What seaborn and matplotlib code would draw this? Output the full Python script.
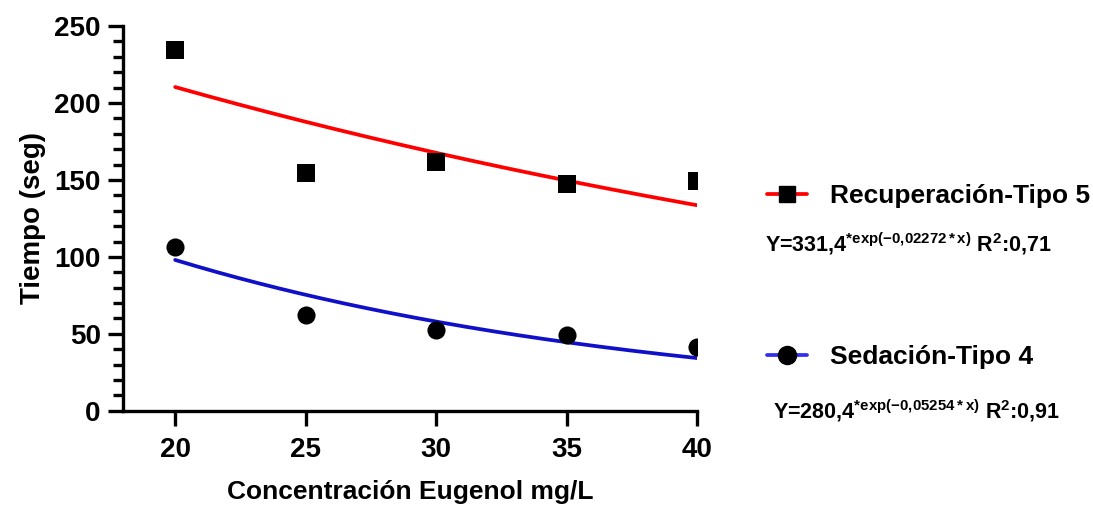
import numpy as np
import pandas as pd
import matplotlib
matplotlib.use("Agg")
import matplotlib.pyplot as plt
from matplotlib.lines import Line2D
from matplotlib.ticker import MultipleLocator
import seaborn as sns

# data
conc = [20, 25, 30, 35, 40]
recuperacion = [234.5, 154.5, 161.5, 147.5, 149.5]
sedacion = [106.5, 62.5, 52.5, 49.5, 41.5]

# exponential fits shown in the chart: Y = a*exp(b*x)
fit_rec = (331.4, -0.02272)
fit_sed = (280.4, -0.05254)

sns.set_style("ticks")
plt.rcParams["font.family"] = ["Liberation Sans", "DejaVu Sans"]
plt.rcParams["font.weight"] = "bold"
for key in ["text.color", "axes.labelcolor", "xtick.color", "ytick.color", "axes.edgecolor"]:
    plt.rcParams[key] = "black"
plt.rcParams["mathtext.fontset"] = "custom"
plt.rcParams["mathtext.rm"] = "Liberation Sans:bold"
plt.rcParams["mathtext.bf"] = "Liberation Sans:bold"
plt.rcParams["mathtext.it"] = "Liberation Sans:bold"

df = pd.DataFrame({"conc": conc, "rec": recuperacion, "sed": sedacion})
xs = np.linspace(conc[0], conc[-1], 200)
curves = pd.DataFrame({
    "x": xs,
    "rec": fit_rec[0] * np.exp(fit_rec[1] * xs),
    "sed": fit_sed[0] * np.exp(fit_sed[1] * xs),
})

fig = plt.figure(figsize=(10.93, 5.11), dpi=100)
ax = fig.add_axes([0.1125, 0.196, 0.5255, 0.753])

sns.lineplot(data=curves, x="x", y="rec", color="#ff0000", lw=2.7, ax=ax)
sns.lineplot(data=curves, x="x", y="sed", color="#1010c8", lw=2.7, ax=ax)
sns.scatterplot(data=df, x="conc", y="rec", marker="s", s=150, color="black",
                edgecolor="black", linewidth=0, ax=ax, zorder=3)
sns.scatterplot(data=df, x="conc", y="sed", marker="o", s=170, color="black",
                edgecolor="black", linewidth=0, ax=ax, zorder=3)

ax.set_xlim(18, 40)
ax.set_ylim(0, 250)
ax.set_xticks(conc)
ax.yaxis.set_major_locator(MultipleLocator(50))
ax.yaxis.set_minor_locator(MultipleLocator(10))
for side in ["top", "right"]:
    ax.spines[side].set_visible(False)
for side in ["left", "bottom"]:
    ax.spines[side].set_linewidth(2.4)
ax.tick_params(axis="both", which="major", width=2.4, length=11, labelsize=20, pad=5)
ax.tick_params(axis="x", which="major", pad=8)
ax.tick_params(axis="y", which="minor", width=2.4, length=7)

ax.set_xlabel("Concentración Eugenol mg/L", fontsize=19, fontweight="bold", labelpad=12)
ax.set_ylabel("Tiempo (seg)", fontsize=20, fontweight="bold", labelpad=6)

handles = [
    Line2D([], [], color="#ff0000", lw=2.7, marker="s", markersize=12,
           markerfacecolor="black", markeredgecolor="black"),
    Line2D([], [], color="#3030f0", lw=2.7, marker="o", markersize=13,
           markerfacecolor="black", markeredgecolor="black"),
]
fig.legend(handles, ["Recuperación-Tipo 5", "Sedación-Tipo 4"],
           loc="upper left", bbox_to_anchor=(0.68, 0.686), frameon=False,
           prop={"size": 19, "weight": "bold"}, handlelength=1.5,
           labelspacing=5.2, handletextpad=0.9)

fig.text(0.70, 0.523,
         r"Y=331,4$^{\mathbf{*exp(-0{,}02272*x)}}$ R$^{\mathbf{2}}$:0,71",
         fontsize=15.5, fontweight="bold", va="center")
fig.text(0.707, 0.197,
         r"Y=280,4$^{\mathbf{*exp(-0{,}05254*x)}}$ R$^{\mathbf{2}}$:0,91",
         fontsize=15.5, fontweight="bold", va="center")

fig.savefig("out.png", dpi=100)
